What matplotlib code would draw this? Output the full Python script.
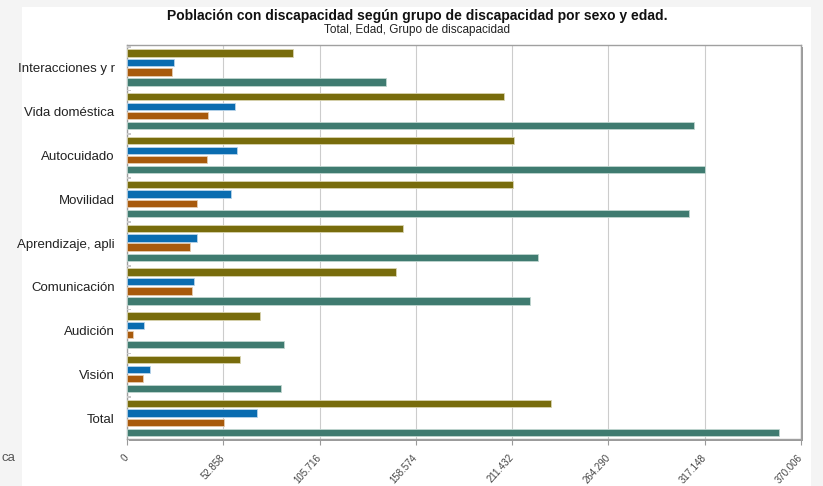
import matplotlib.pyplot as plt
from matplotlib.patches import Rectangle
import numpy as np

plt.rcParams['font.family'] = ['Liberation Sans', 'DejaVu Sans']

categorias = ["Interacciones y r", "Vida doméstica", "Autocuidado", "Movilidad",
              "Aprendizaje, apli", "Comunicación", "Audición", "Visión", "Total"]

# cinco series por grupo (la primera casi nula)
serie_gris = [2000, 2000, 2000, 2000, 2000, 2000, 2000, 2000, 2000]
serie_oliva = [91100, 207000, 212500, 211900, 151500, 147700, 73000, 62000, 232800]
serie_azul = [25800, 59300, 60400, 57100, 38400, 36800, 9300, 12600, 71400]
serie_naranja = [24700, 44500, 43900, 38400, 34600, 35700, 3300, 8800, 53300]
serie_verde = [142200, 311300, 317300, 308500, 225600, 221200, 86200, 84500, 357900]

ticks = [0, 52858, 105716, 158574, 211432, 264290, 317148, 370006]
tick_labels = ["0", "52.858", "105.716", "158.574", "211.432", "264.290", "317.148", "370.006"]

W, H = 823, 486
fig = plt.figure(figsize=(W / 100, H / 100), dpi=100, facecolor="#f4f4f4")

# panel blanco
fig.patches.append(Rectangle((22 / W, 0), (811 - 22) / W, (H - 7) / H,
                             transform=fig.transFigure, facecolor="white",
                             edgecolor="none", zorder=0))

x0, x1, ytop, ybot = 127, 801, 44.7, 439
# sombra del marco
fig.patches.append(Rectangle(((x0 + 2) / W, (H - ybot - 2) / H), (x1 - x0) / W, (ybot - ytop) / H,
                             transform=fig.transFigure, facecolor="#9a9a9a",
                             edgecolor="none", zorder=0.5))

ax = fig.add_axes([x0 / W, (H - ybot) / H, (x1 - x0) / W, (ybot - ytop) / H])
ax.set_zorder(2)
ax.set_facecolor("white")

n = len(categorias)
g = np.arange(n)
h = 0.167
ax.barh(g + 0.046, serie_gris, height=0.04, color="#c8c8c8", zorder=3)
ax.barh(g + 0.19, serie_oliva, height=h, color="#786c0c", edgecolor="#d8d4b0", linewidth=0.6, zorder=3)
ax.barh(g + 0.41, serie_azul, height=h, color="#0a6cb0", edgecolor="#b8d4ea", linewidth=0.6, zorder=3)
ax.barh(g + 0.62, serie_naranja, height=h, color="#a85a0c", edgecolor="#e6ccb0", linewidth=0.6, zorder=3)
ax.barh(g + 0.85, serie_verde, height=h, color="#3f7b70", edgecolor="#c0d6d0", linewidth=0.6, zorder=3)

ax.set_ylim(n, 0)
ax.set_xlim(0, 370006)
ax.set_yticks(g + 0.53)
ax.set_yticklabels(categorias, fontsize=9.5, color="#222222")
ax.tick_params(axis="y", length=0, pad=9)

ax.set_xticks(ticks)
ax.set_xticklabels(tick_labels, rotation=48, ha="right", va="center", rotation_mode="anchor",
                   fontsize=7, color="#444444")
ax.tick_params(axis="x", length=4, color="#999999", pad=8)
ax.grid(axis="x", color="#cccccc", linewidth=0.8, zorder=0)
for s in ax.spines.values():
    s.set_color("#a0a0a0")
    s.set_linewidth(1)

fig.text(417 / W, 1 - 16 / H, "Población con discapacidad según grupo de discapacidad por sexo y edad.",
         ha="center", va="center", fontsize=10, fontweight="bold", color="#111111")
fig.text(417 / W, 1 - 30 / H, "Total, Edad, Grupo de discapacidad",
         ha="center", va="center", fontsize=8.5, color="#222222")
fig.text(1 / W, 1 - 458 / H, "ca", ha="left", va="center", fontsize=9.5, color="#555555")

fig.savefig("out.png", dpi=100, facecolor=fig.get_facecolor())
